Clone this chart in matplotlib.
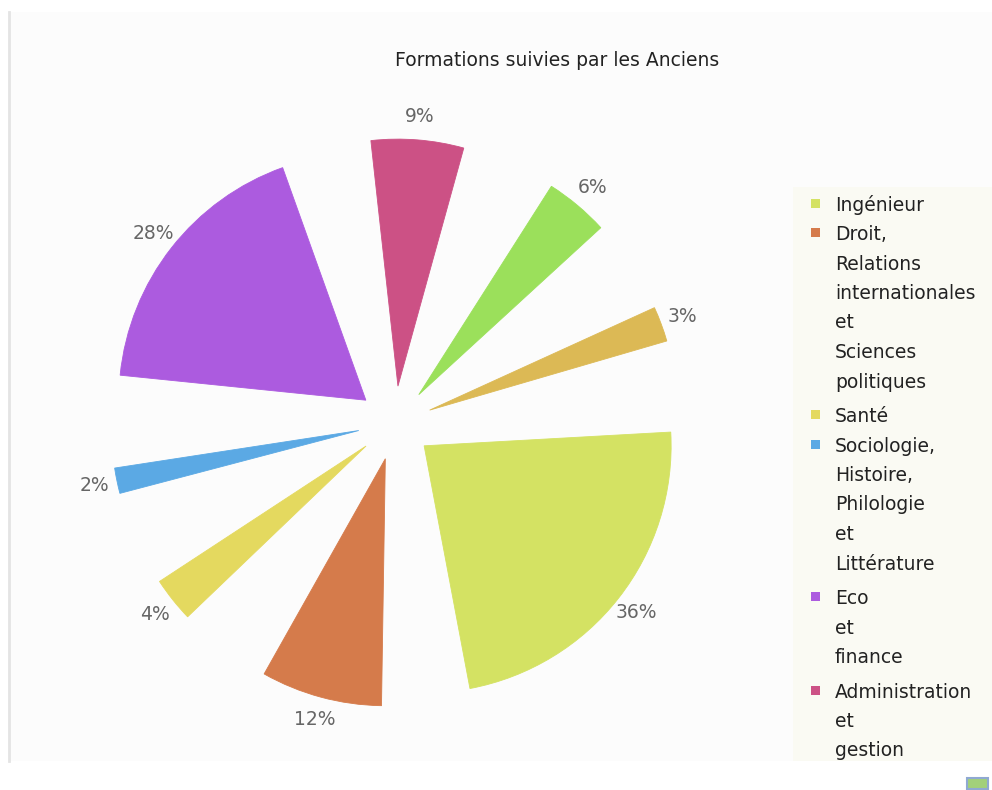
import matplotlib
matplotlib.use("Agg")
import matplotlib.pyplot as plt
import numpy as np
from matplotlib.patches import Wedge, Rectangle

# data (legend in the source is cut after 6 entries)
title = "Formations suivies par les Anciens"
legend_labels = [
    "Ingénieur",
    "Droit,\nRelations\ninternationales\net\nSciences\npolitiques",
    "Santé",
    "Sociologie,\nHistoire,\nPhilologie\net\nLittérature",
    "Eco\net\nfinance",
    "Administration\net\ngestion",
]
values = [36, 12, 4, 2, 28, 9, 6, 3]
colors = ["#d4e263", "#d57b4b", "#e4d95f", "#5ba9e4",
          "#ac5bdf", "#cc5185", "#9be05b", "#dcb955"]

W, H = 992, 790
fig = plt.figure(figsize=(W / 100, H / 100), dpi=100)
ax = fig.add_axes([0, 0, 1, 1])
ax.set_xlim(0, W)
ax.set_ylim(0, H)
ax.axis("off")


def py(y):
    # pixel row (top down) -> axes y (bottom up)
    return H - y


# chart panel + legend panel
ax.add_patch(Rectangle((8, py(761)), W - 8, 761 - 12, facecolor="#fcfcfc",
                       edgecolor="none", zorder=0))
ax.plot([8.5, 8.5], [py(12), py(761)], color="#e4e4e4", lw=2, zorder=1)
ax.add_patch(Rectangle((793, py(761)), W - 793, 761 - 187, facecolor="#fafaf3",
                       edgecolor="none", zorder=0))
# little image icon bottom right
ax.add_patch(Rectangle((967, py(789)), 21, 11, facecolor="#a2d07a",
                       edgecolor="#8fa9d2", lw=1.5, zorder=1))

ax.text(557, py(60), title, ha="center", va="center", fontsize=13.5,
        color="#222222")

# exploded pie: every slice gets a minimum share of the circle plus a
# proportional part, and the drawn wedge sits in the middle of that share
cx, cy = 395, py(423)
radius = 247
explode = 37
min_share = 21.0
start = 7.0
k = (360 - min_share * len(values)) / sum(values)

a = start
for v, col in zip(values, colors):
    share = k * v + min_share
    span = 2.25 * v + 1.5
    mid = a - share / 2
    rad = np.deg2rad(mid)
    ox, oy = cx + explode * np.cos(rad), cy + explode * np.sin(rad)
    ax.add_patch(Wedge((ox, oy), radius, mid - span / 2, mid + span / 2,
                       facecolor=col, edgecolor=col, lw=0.6, zorder=2))
    lx, ly = cx + 307 * np.cos(rad), cy + 307 * np.sin(rad)
    ax.text(lx, ly, f"{v}%", ha="center", va="center", fontsize=13.5,
            color="#666666")
    a -= share

# legend, drawn by hand so the marker sits on the first line
line_h = 29.5
y = 203
for lab, col in zip(legend_labels, colors):
    ax.add_patch(Rectangle((811, py(y) - 4.5), 9, 9, facecolor=col,
                           edgecolor="none", zorder=3))
    lines = lab.split("\n")
    for ln in lines:
        ax.text(835, py(y), ln, ha="left", va="center_baseline",
                fontsize=13.5, color="#222222")
        y += line_h
    if len(lines) > 1:
        y += 5

fig.savefig("out.png", dpi=100)
